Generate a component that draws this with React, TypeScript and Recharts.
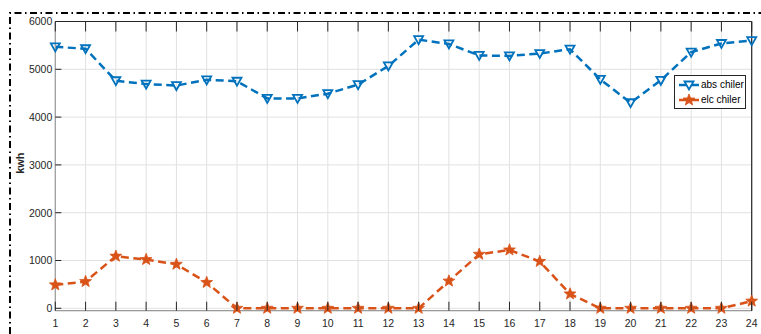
import React from 'react';
import { LineChart, Line, XAxis, YAxis, CartesianGrid, Legend } from 'recharts';

// Hourly energy (kWh) for the two chillers
const hours = [1, 2, 3, 4, 5, 6, 7, 8, 9, 10, 11, 12, 13, 14, 15, 16, 17, 18, 19, 20, 21, 22, 23, 24];
const absChiler = [5470, 5430, 4760, 4690, 4660, 4780, 4750, 4390, 4390, 4490, 4680, 5070, 5620, 5530, 5290, 5280, 5330, 5420, 4790, 4300, 4770, 5360, 5540, 5600];
const elcChiler = [490, 560, 1090, 1020, 920, 540, 0, 0, 0, 0, 0, 0, 0, 570, 1130, 1220, 980, 300, 0, 0, 0, 0, 0, 150];
const yTicks = [0, 1000, 2000, 3000, 4000, 5000, 6000];

const seriesNames = { abs: 'abs chiler', elc: 'elc chiler' };

const BLUE = '#0072BD';
const ORANGE = '#D95319';
const INK = '#262626';
const FONT = '"Liberation Sans", Arial, Helvetica, sans-serif';

const data = hours.map((h, i) => ({ hour: h, abs: absChiler[i], elc: elcChiler[i] }));

const trianglePath = (cx: number, cy: number) =>
  `M${cx - 4.5},${cy - 3.5} L${cx + 4.5},${cy - 3.5} L${cx},${cy + 4.5} Z`;

const starPath = (cx: number, cy: number, ro = 6.2, ri = 2.6) => {
  const pts: string[] = [];
  for (let k = 0; k < 10; k++) {
    const r = k % 2 === 0 ? ro : ri;
    const a = -Math.PI / 2 + (k * Math.PI) / 5;
    pts.push(`${(cx + r * Math.cos(a)).toFixed(2)},${(cy + r * Math.sin(a)).toFixed(2)}`);
  }
  return `M${pts.join(' L')} Z`;
};

const TriangleDot = (props: any) => {
  const { cx, cy, index } = props;
  if (cx == null || cy == null) return <g key={`t${index}`} />;
  return <path key={`t${index}`} d={trianglePath(cx, cy)} fill="none" stroke={BLUE} strokeWidth={1.8} />;
};

const StarDot = (props: any) => {
  const { cx, cy, index } = props;
  if (cx == null || cy == null) return <g key={`s${index}`} />;
  return <path key={`s${index}`} d={starPath(cx, cy)} fill={ORANGE} stroke={ORANGE} strokeWidth={0.8} strokeLinejoin="round" />;
};

// Inward tick marks with labels outside the box
const BottomTick = (props: any) => {
  const { x, y, payload } = props;
  return (
    <g>
      <line x1={x} x2={x} y1={y} y2={y - 9} stroke={INK} strokeWidth={1} />
      <text x={x} y={y + 16.5} textAnchor="middle" fontFamily={FONT} fontSize={10.5} fill={INK}>
        {payload.value}
      </text>
    </g>
  );
};

const TopTick = (props: any) => {
  const { x, y } = props;
  return <line x1={x} x2={x} y1={y} y2={y + 10} stroke={INK} strokeWidth={1} />;
};

const LeftTick = (props: any) => {
  const { x, y, payload } = props;
  return (
    <g>
      <line x1={x} x2={x + 6} y1={y} y2={y} stroke={INK} strokeWidth={1} />
      <text x={x - 3} y={y + 3.8} textAnchor="end" fontFamily={FONT} fontSize={10.5} fill={INK}>
        {payload.value}
      </text>
    </g>
  );
};

const RightTick = (props: any) => {
  const { x, y } = props;
  return <line x1={x} x2={x - 7} y1={y} y2={y} stroke={INK} strokeWidth={1} />;
};

const LegendBox = () => (
  <div
    style={{
      width: 72,
      height: 34,
      boxSizing: 'border-box',
      border: `1px solid ${INK}`,
      background: '#fff',
      fontFamily: FONT,
      fontSize: 10,
      color: '#000',
      position: 'relative',
    }}
  >
    {[
      { key: 'abs', name: seriesNames.abs, color: BLUE, top: 3 },
      { key: 'elc', name: seriesNames.elc, color: ORANGE, top: 18 },
    ].map((r) => (
      <div key={r.key} style={{ position: 'absolute', left: 3, top: r.top, height: 12, display: 'flex', alignItems: 'center' }}>
        <svg width={22} height={12} style={{ display: 'block' }}>
          <line x1={1} x2={21} y1={6} y2={6} stroke={r.color} strokeWidth={2.5} />
          {r.key === 'abs' ? (
            <path d={trianglePath(11, 6)} fill="#fff" stroke={BLUE} strokeWidth={1.8} />
          ) : (
            <path d={starPath(11, 6)} fill={ORANGE} stroke={ORANGE} strokeWidth={0.8} />
          )}
        </svg>
        <span style={{ marginLeft: 1, whiteSpace: 'nowrap', lineHeight: '12px' }}>{r.name}</span>
      </div>
    ))}
  </div>
);

export default function App() {
  return (
    <div style={{ position: 'absolute', left: 0, top: 0, width: 761, height: 334, background: '#fff' }}>
      <LineChart
        width={761}
        height={334}
        data={data}
        margin={{ top: 11.5, right: 4.3, bottom: 3.3, left: 10.3 }}
      >
        <CartesianGrid xAxisId="b" yAxisId="l" stroke="#e1e1e1" strokeWidth={1} />
        <XAxis
          xAxisId="b"
          dataKey="hour"
          type="number"
          domain={[1, 24]}
          ticks={hours}
          interval={0}
          height={20}
          tickSize={0}
          tickMargin={0}
          tickLine={false}
          axisLine={{ stroke: '#9a9a9a', strokeWidth: 1.2 }}
          tick={<BottomTick />}
        />
        <XAxis
          xAxisId="t"
          orientation="top"
          dataKey="hour"
          type="number"
          domain={[1, 24]}
          ticks={hours}
          interval={0}
          height={10}
          tickSize={0}
          tickMargin={0}
          tickLine={false}
          axisLine={{ stroke: INK, strokeWidth: 1.2 }}
          tick={<TopTick />}
        />
        <YAxis
          yAxisId="l"
          type="number"
          domain={[-50, 6000]}
          ticks={yTicks}
          interval={0}
          width={45}
          tickSize={0}
          tickMargin={0}
          tickLine={false}
          axisLine={{ stroke: '#9a9a9a', strokeWidth: 1.2 }}
          tick={<LeftTick />}
          label={{
            value: 'kwh',
            angle: -90,
            position: 'insideLeft',
            offset: 0,
            dx: 10,
            dy: -3,
            style: { fontFamily: FONT, fontSize: 11, fontWeight: 'bold', fill: INK, textAnchor: 'middle' },
          }}
        />
        <YAxis
          yAxisId="r"
          orientation="right"
          type="number"
          domain={[-50, 6000]}
          ticks={yTicks}
          interval={0}
          width={5}
          tickSize={0}
          tickMargin={0}
          tickLine={false}
          axisLine={{ stroke: INK, strokeWidth: 1.2 }}
          tick={<RightTick />}
        />
        <Legend
          layout="horizontal"
          verticalAlign="middle"
          align="center"
          content={() => <LegendBox />}
          wrapperStyle={{ left: 674, top: 75, width: 72, height: 34 }}
        />
        <Line
          xAxisId="b"
          yAxisId="l"
          type="linear"
          dataKey="abs"
          name={seriesNames.abs}
          stroke={BLUE}
          strokeWidth={2.5}
          strokeDasharray="8 4.5"
          dot={TriangleDot}
          activeDot={false}
          isAnimationActive={false}
        />
        <Line
          xAxisId="b"
          yAxisId="l"
          type="linear"
          dataKey="elc"
          name={seriesNames.elc}
          stroke={ORANGE}
          strokeWidth={2.5}
          strokeDasharray="8 4.5"
          dot={StarDot}
          activeDot={false}
          isAnimationActive={false}
        />
      </LineChart>
      <svg
        width={761}
        height={334}
        style={{ position: 'absolute', left: 0, top: 0, pointerEvents: 'none' }}
      >
        <path d="M10,334 L10,13 L761,13" fill="none" stroke="#000" strokeWidth={2} strokeDasharray="7 3.5 1.5 3.5" />
      </svg>
    </div>
  );
}
